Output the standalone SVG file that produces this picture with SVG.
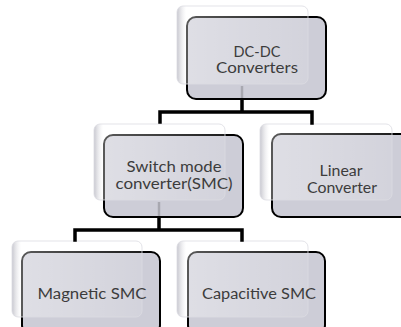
<svg xmlns="http://www.w3.org/2000/svg" width="401" height="327" viewBox="0 0 401 327">
  <defs>
    <linearGradient id="cardShade" x1="0" y1="0" x2="1" y2="0">
      <stop offset="0" stop-color="#bdbdc6" stop-opacity="0.85"/>
      <stop offset="0.07" stop-color="#ffffff" stop-opacity="0.35"/>
      <stop offset="1" stop-color="#ffffff" stop-opacity="0.12"/>
    </linearGradient>
  </defs>
  <style>
    .main { fill: #cdcdd7; stroke: #000000; stroke-width: 2; }
    .card { fill: url(#cardShade); stroke: #dcdce2; stroke-width: 1; stroke-opacity: 0.8; }
    .label { font-family: Lato, "Open Sans", sans-serif; fill: #3c3c3c; text-anchor: middle; }
    .wire { stroke: #000000; stroke-width: 3.5; fill: none; stroke-linecap: square; }
    .ghost { stroke: #a8a8b0; stroke-width: 2.5; fill: none; }
  </style>
  <rect width="401" height="327" fill="#ffffff"/>

  <!-- boxes sit under the connectors -->
  <g id="node-dcdc">
    <rect class="main" x="187" y="17" width="139" height="82" rx="9"/>
    <rect class="card" x="177" y="6" width="131" height="78" rx="6"/>
    <text class="label" font-size="14.5" x="257" y="57">DC-DC</text>
    <text class="label" font-size="14.5" x="257" y="73" textLength="82" lengthAdjust="spacingAndGlyphs">Converters</text>
  </g>

  <g id="node-smc">
    <rect class="main" x="104" y="135" width="139" height="82" rx="9"/>
    <rect class="card" x="94" y="124" width="131" height="76" rx="6"/>
    <text class="label" font-size="15" x="174" y="172" textLength="95" lengthAdjust="spacingAndGlyphs">Switch mode</text>
    <text class="label" font-size="15" x="174" y="189" textLength="117" lengthAdjust="spacingAndGlyphs">converter(SMC)</text>
  </g>

  <g id="node-linear">
    <rect class="main" x="272" y="134" width="139" height="83" rx="9"/>
    <rect class="card" x="260" y="124" width="132" height="76" rx="6"/>
    <text class="label" font-size="15" x="341" y="176" textLength="43" lengthAdjust="spacingAndGlyphs">Linear</text>
    <text class="label" font-size="15" x="342" y="193" textLength="70" lengthAdjust="spacingAndGlyphs">Converter</text>
  </g>

  <g id="node-magnetic">
    <rect class="main" x="22" y="252" width="138" height="82" rx="9"/>
    <rect class="card" x="12" y="241" width="130" height="76" rx="6"/>
    <text class="label" font-size="15.5" x="92" y="299" textLength="109" lengthAdjust="spacingAndGlyphs">Magnetic SMC</text>
  </g>

  <g id="node-capacitive">
    <rect class="main" x="188" y="252" width="137" height="82" rx="9"/>
    <rect class="card" x="177" y="241" width="131" height="76" rx="6"/>
    <text class="label" font-size="15.5" x="259" y="299" textLength="114" lengthAdjust="spacingAndGlyphs">Capacitive SMC</text>
  </g>

  <g id="connectors">
    <!-- faint stems seen through the parent boxes -->
    <line class="ghost" x1="242" y1="86" x2="242" y2="98"/>
    <line class="ghost" x1="159" y1="202" x2="159" y2="216"/>
    <!-- DC-DC to second level -->
    <path class="wire" d="M242 100 V112 M160 112 H312 M160 112 V122 M312 112 V123"/>
    <!-- SMC to third level -->
    <path class="wire" d="M159 218 V230 M75 230 H242 M75 230 V240 M242 230 V240"/>
  </g>
</svg>
